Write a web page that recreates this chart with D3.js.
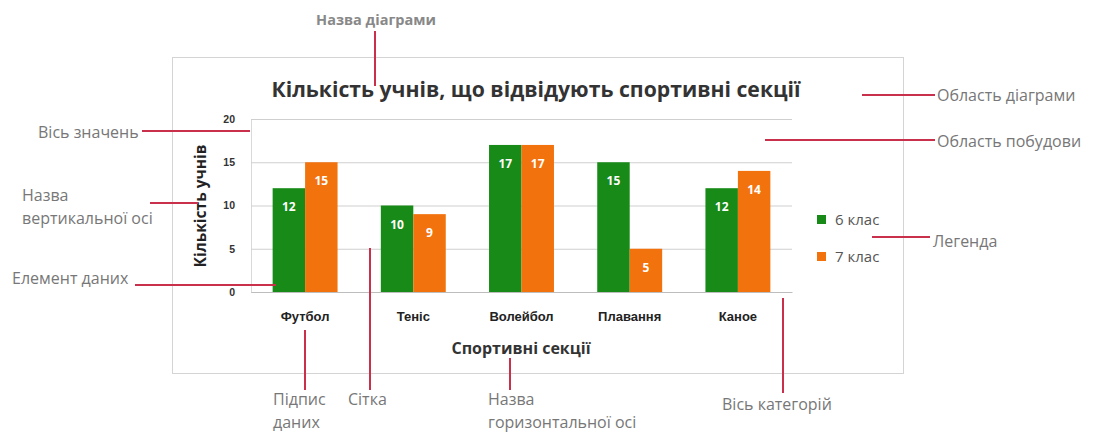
<!DOCTYPE html>
<html>
<head>
<meta charset="utf-8">
<script src="https://cdn.jsdelivr.net/npm/d3@7"></script>
<style>
  html, body { margin: 0; padding: 0; background: #fff; }
  svg { display: block; font-family: "Open Sans", "DejaVu Sans", sans-serif; }
</style>
</head>
<body>
<svg id="chart" width="1102" height="435"></svg>
<script>
// Sports sections and the number of pupils per grade
const categories = ["Футбол", "Теніс", "Волейбол", "Плавання", "Каное"];
const grade6 = [12, 10, 17, 15, 12];
const grade7 = [15, 9, 17, 5, 14];
const seriesNames = ["6 клас", "7 клас"];
const yTicks = [0, 5, 10, 15, 20];

const chartTitle = "Кількість учнів, що відвідують спортивні секції";
const yTitle = "Кількість учнів";
const xTitle = "Спортивні секції";

const colors = ["#178a17", "#f2720e"];
const calloutColor = "#c9304c";

const svg = d3.select("#chart");

// chart area frame
svg.append("rect")
  .attr("x", 172.5).attr("y", 57.5)
  .attr("width", 731).attr("height", 316)
  .attr("fill", "#fff").attr("stroke", "#d4d4d4");

const plot = { left: 251, right: 792, top: 119, bottom: 292 };

const x = d3.scaleBand()
  .domain(categories)
  .range([plot.left, plot.right])
  .paddingInner(0.4)
  .paddingOuter(0.2);

const xs = d3.scaleBand()
  .domain(seriesNames)
  .range([0, x.bandwidth()]);

const y = d3.scaleLinear().domain([0, 20]).range([plot.bottom, plot.top]);

// value axis with gridlines
const yAxis = d3.axisLeft(y).tickValues(yTicks).tickSize(-(plot.right - plot.left)).tickPadding(16);
const gy = svg.append("g")
  .attr("transform", `translate(${plot.left},0)`)
  .call(yAxis);
gy.select(".domain").attr("stroke", "#d9d9d9");
gy.selectAll(".tick line").attr("stroke", "#cfcfcf");
gy.selectAll(".tick text")
  .attr("fill", "#333").attr("font-size", 10.5).attr("font-weight", "bold");

// bars
const data = categories.map((c, i) => ({ cat: c, values: [grade6[i], grade7[i]] }));
const groups = svg.append("g").selectAll("g")
  .data(data).join("g")
  .attr("transform", d => `translate(${x(d.cat)},0)`);

groups.selectAll("rect")
  .data(d => d.values.map((v, k) => ({ v, k })))
  .join("rect")
  .attr("x", d => xs(seriesNames[d.k]))
  .attr("y", d => y(d.v))
  .attr("width", xs.bandwidth())
  .attr("height", d => y(0) - y(d.v))
  .attr("fill", d => colors[d.k]);

// data labels
groups.selectAll("text")
  .data(d => d.values.map((v, k) => ({ v, k })))
  .join("text")
  .attr("x", d => xs(seriesNames[d.k]) + xs.bandwidth() / 2)
  .attr("y", d => y(d.v) + 23)
  .attr("text-anchor", "middle")
  .attr("fill", "#fff")
  .attr("font-size", 12)
  .attr("font-weight", "bold")
  .text(d => d.v);

// category axis
const xAxis = d3.axisBottom(x).tickSize(0).tickPadding(20);
const gx = svg.append("g")
  .attr("transform", `translate(0,${plot.bottom})`)
  .call(xAxis);
gx.select(".domain").attr("stroke", "#bdbdbd");
gx.selectAll(".tick text")
  .attr("fill", "#222").attr("font-size", 13).attr("font-weight", "bold");

// titles
svg.append("text")
  .attr("x", 536).attr("y", 97)
  .attr("text-anchor", "middle")
  .attr("font-size", 21.2).attr("font-weight", "bold").attr("fill", "#333")
  .text(chartTitle);

svg.append("text")
  .attr("transform", "translate(205.5,206) rotate(-90)")
  .attr("text-anchor", "middle")
  .attr("font-size", 15.5).attr("font-weight", "bold").attr("fill", "#222")
  .text(yTitle);

svg.append("text")
  .attr("x", 521).attr("y", 354)
  .attr("text-anchor", "middle")
  .attr("font-size", 16).attr("font-weight", "bold").attr("fill", "#333")
  .text(xTitle);

// legend
const legend = svg.append("g").selectAll("g")
  .data(seriesNames).join("g")
  .attr("transform", (d, i) => `translate(817,${215 + i * 37})`);
legend.append("rect").attr("width", 9).attr("height", 9).attr("fill", (d, i) => colors[i]);
legend.append("text")
  .attr("x", 18).attr("y", 10)
  .attr("font-size", 15).attr("fill", "#555")
  .text(d => d);

// callouts naming the parts of the chart
const callouts = [
  { lines: ["Назва діаграми"], tx: 376, ty: 25, anchor: "middle", size: 14.5, bold: true, seg: [375, 31, 375, 86] },
  { lines: ["Вісь значень"], tx: 38, ty: 138, anchor: "start", seg: [142, 131, 250, 131] },
  { lines: ["Назва", "вертикальної осі"], tx: 22, ty: 201, anchor: "start", seg: [150, 203, 198, 203] },
  { lines: ["Елемент даних"], tx: 12, ty: 284, anchor: "start", seg: [135, 285, 276, 285] },
  { lines: ["Область діаграми"], tx: 937, ty: 101, anchor: "start", seg: [862, 95, 935, 95] },
  { lines: ["Область побудови"], tx: 937, ty: 147, anchor: "start", seg: [765, 140, 935, 140] },
  { lines: ["Легенда"], tx: 933, ty: 247, anchor: "start", seg: [872, 237, 930, 237] },
  { lines: ["Підпис", "даних"], tx: 273, ty: 405, anchor: "start", seg: [305, 330, 305, 390] },
  { lines: ["Сітка"], tx: 348, ty: 405, anchor: "start", seg: [370, 248, 370, 390] },
  { lines: ["Назва", "горизонтальної осі"], tx: 488, ty: 405, anchor: "start", seg: [510, 358, 510, 390] },
  { lines: ["Вісь категорій"], tx: 722, ty: 410, anchor: "start", seg: [783, 298, 783, 393] }
];

const cg = svg.append("g");
cg.selectAll("line")
  .data(callouts).join("line")
  .attr("x1", d => d.seg[0]).attr("y1", d => d.seg[1])
  .attr("x2", d => d.seg[2]).attr("y2", d => d.seg[3])
  .attr("stroke", calloutColor).attr("stroke-width", 2);

cg.selectAll("text")
  .data(callouts).join("text")
  .attr("x", d => d.tx).attr("y", d => d.ty)
  .attr("text-anchor", d => d.anchor)
  .attr("font-size", d => d.size || 16)
  .attr("font-weight", d => d.bold ? "bold" : "normal")
  .attr("fill", d => d.bold ? "#888" : "#777")
  .selectAll("tspan")
  .data(d => d.lines.map(l => ({ l, x: d.tx })))
  .join("tspan")
  .attr("x", d => d.x)
  .attr("dy", (d, i) => i === 0 ? 0 : 23)
  .text(d => d.l);
</script>
</body>
</html>
